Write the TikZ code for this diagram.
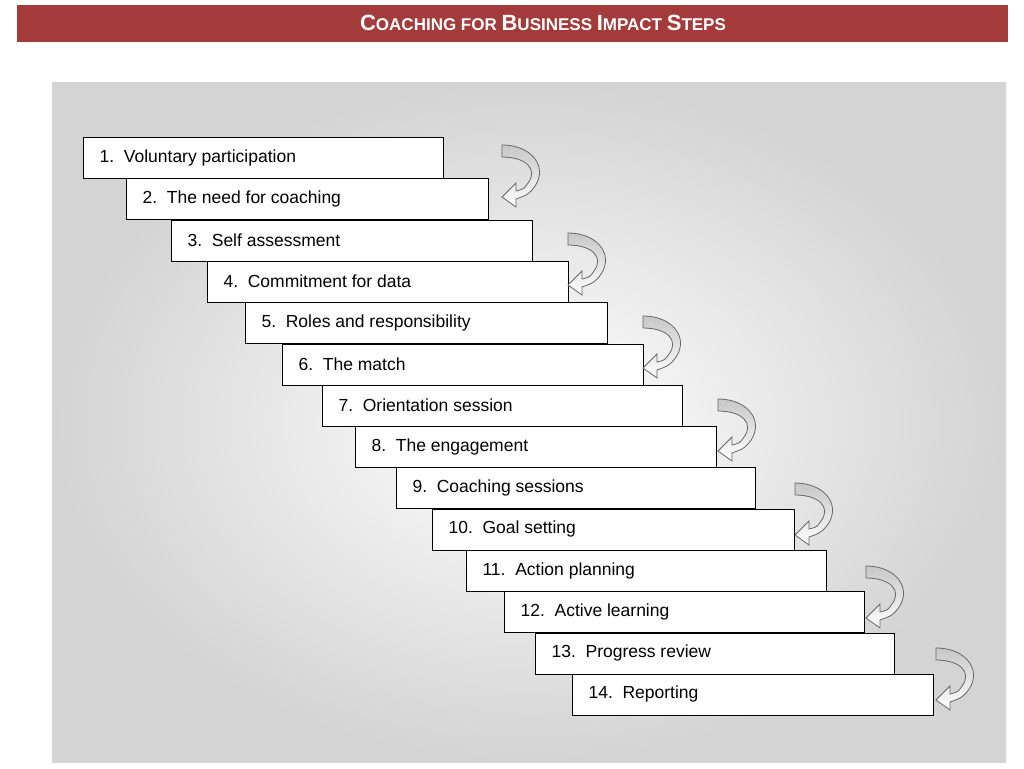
\documentclass[tikz,border=0pt]{standalone}
\usepackage{fontspec}
\setmainfont{Liberation Sans}
\definecolor{barred}{HTML}{A33B3B}
\begin{document}
\begin{tikzpicture}[x=1pt,y=-1pt,
  stepbox/.style={draw=black,line width=0.9pt,fill=white,anchor=north west,minimum height=41pt,inner sep=0pt},
  steplabel/.style={anchor=west,font=\fontsize{17.5}{18}\selectfont},
  turn/.style={draw=black!60,line width=0.8pt,left color=black!22,right color=white,shading angle=0}]
\useasboundingbox (0,0) rectangle (1024,768);
\fill[barred] (17,5) rectangle (1008,42);
\node[text=white,font=\bfseries] (title) at (543,23) {{\fontsize{22}{22}\selectfont C}{\fontsize{17}{17}\selectfont OACHING FOR }{\fontsize{22}{22}\selectfont B}{\fontsize{17}{17}\selectfont USINESS }{\fontsize{22}{22}\selectfont I}{\fontsize{17}{17}\selectfont MPACT }{\fontsize{22}{22}\selectfont S}{\fontsize{17}{17}\selectfont TEPS}};
\shade[inner color=white,outer color=black!17] (52,82) rectangle (1006,762);
\foreach \i/\lx/\rx/\txt in {1/83/443/Voluntary participation,2/126/488/The need for coaching,3/171/532/Self assessment,4/207/568/Commitment for data,5/245/607/Roles and responsibility,6/282/643/The match,7/322/682/Orientation session,8/355/716/The engagement,9/396/755/Coaching sessions,10/432/794/Goal setting,11/466/826/Action planning,12/504/864/Active learning,13/535/894/Progress review,14/572/933/Reporting}{
  \pgfmathsetmacro{\yy}{137+41.3*(\i-1)}
  \pgfmathsetmacro{\ww}{\rx-\lx}
  \node[stepbox,minimum width=\ww pt] (s\i) at (\lx,\yy) {};
  \node[steplabel] (t\i) at (\lx+13,\yy+20.5) {\i.\ \ \txt};
}
\foreach \x/\y in {502/145,568/233,643/316,718/399,795/483,866/566,936/648}{
  \begin{scope}[shift={(\x,\y)}]
  \path[turn] (0,0) .. controls (32,0) and (48,25) .. (30,45) .. controls (25,50) .. (14,54) -- (14,62) -- (0,52) -- (14,38) -- (14,46) .. controls (22,44) .. (26,38) .. controls (36,25) and (25,12) .. (0,12) -- cycle;
  \end{scope}
}
\end{tikzpicture}
\end{document}
